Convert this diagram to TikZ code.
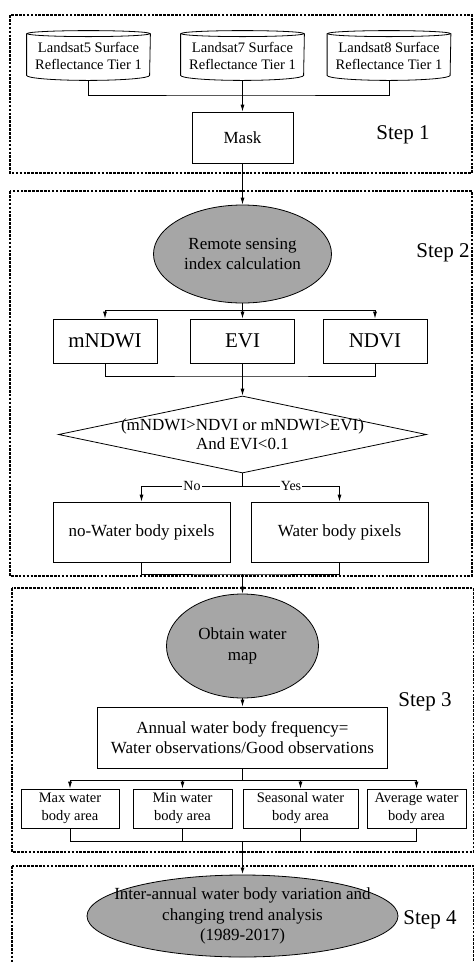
\documentclass[tikz,border=0pt]{standalone}
\usepackage{fontspec}
\setmainfont{Liberation Serif}
\usetikzlibrary{shapes.geometric,arrows.meta,positioning}

\tikzset{
  stepframe/.style={draw, line width=1.1pt, dash pattern=on 2.6pt off 1.3pt},
  steplabel/.style={font=\fontsize{21}{24}\selectfont},
  datacyl/.style={rectangle, minimum width=123pt, minimum height=49pt,
    inner sep=0pt, align=center, font=\fontsize{14.5}{17}\selectfont},
  procbox/.style={draw, rectangle, inner sep=0pt, align=center,
    font=\fontsize{17}{20}\selectfont},
  indexbox/.style={procbox, minimum width=104pt, minimum height=44pt,
    font=\fontsize{21}{24}\selectfont},
  areabox/.style={procbox, minimum height=39pt,
    font=\fontsize{14.5}{18}\selectfont},
  greyoval/.style={draw, ellipse, fill=black!35, inner sep=0pt, align=center,
    font=\fontsize{17}{20.5}\selectfont},
  flow/.style={-{Latex[length=7pt,width=4pt]}},
  branch/.style={fill=white, inner sep=1pt, font=\fontsize{14}{16}\selectfont}
}

\begin{document}
\begin{tikzpicture}[x=1pt, y=-1pt, line width=0.8pt]
\useasboundingbox (0,0) rectangle (474,962);

%step frames
\draw [stepframe] (10,15) rectangle (472,173);
\draw [stepframe] (10,191) rectangle (472,576);
\draw [stepframe] (12,588) rectangle (473.5,852);
\draw [stepframe] (12,866) rectangle (473.5,975);

%step 1
\node [datacyl] (ls5) at (88.5,55.5) {Landsat5 Surface\\Reflectance Tier 1};
\node [datacyl] (ls7) at (242.5,55.5) {Landsat7 Surface\\Reflectance Tier 1};
\node [datacyl] (ls8) at (389,55.5) {Landsat8 Surface\\Reflectance Tier 1};
\foreach \cyl in {ls5,ls7,ls8} {
  \draw ([yshift=-3pt]\cyl.north) ellipse [x radius=61.5pt, y radius=3pt];
  \draw ([yshift=-3pt]\cyl.north west) -- ([yshift=5pt]\cyl.south west)
    arc [start angle=180, end angle=360, x radius=61.5pt, y radius=5pt]
    -- ([yshift=-3pt]\cyl.north east);
}
\node [procbox, minimum width=101pt, minimum height=51pt] (mask) at (242.5,137.5) {Mask};
\node [steplabel] (s1) at (403,135) {Step 1};

\coordinate (j1) at (242.5,95);
\draw (ls5.south) |- (j1) -| (ls8.south);
\draw [flow] (ls7.south) -- (mask.north);

%step 2
\node [greyoval, minimum width=178pt, minimum height=98pt] (rsi) at (242.5,254) {Remote sensing\\index calculation};
\node [steplabel] (s2) at (443,253) {Step 2};
\node [indexbox] (mndwi) at (105,341) {mNDWI};
\node [indexbox] (evi) at (242.5,341) {EVI};
\node [indexbox] (ndvi) at (375,341) {NDVI};
\node [draw, diamond, minimum width=368pt, minimum height=77pt, inner sep=0pt,
  label={[align=center, font=\fontsize{17}{19}\selectfont]center:(mNDWI>NDVI or mNDWI>EVI)\\And EVI<0.1}]
  (cond) at (242.5,434.5) {};
\node [procbox, minimum width=177pt, minimum height=60pt] (nowater) at (141.5,532) {no-Water body pixels};
\node [procbox, minimum width=177pt, minimum height=60pt] (water) at (339.5,532) {Water body pixels};

\draw [flow] (mask.south) -- (rsi.north);
\coordinate (j2) at (242.5,310);
\draw [flow] (rsi.south) -- (evi.north);
\draw [flow] (j2) -| (mndwi.north);
\draw [flow] (j2) -| (ndvi.north);
\coordinate (j3) at (242.5,376);
\draw (mndwi.south) |- (j3) -| (ndvi.south);
\draw [flow] (evi.south) -- (cond.north);
\coordinate (j4) at (242.5,486);
\draw (cond.south) -- (j4);
\draw [flow] (j4) -| node [branch, pos=0.25] {No} (nowater.north);
\draw [flow] (j4) -| node [branch, pos=0.25] {Yes} (water.north);

%step 3
\node [greyoval, minimum width=152pt, minimum height=104pt] (wmap) at (242.5,646) {Obtain water\\map};
\node [steplabel] (s3) at (425,702) {Step 3};
\node [procbox, minimum width=290pt, minimum height=61pt] (freq) at (242.5,737.5) {Annual water body frequency=\\Water observations/Good observations};
\node [areabox, minimum width=98pt] (amax) at (70,808.5) {Max water\\body area};
\node [areabox, minimum width=99pt] (amin) at (182.5,808.5) {Min water\\body area};
\node [areabox, minimum width=115pt] (aseas) at (300.5,808.5) {Seasonal water\\body area};
\node [areabox, minimum width=99pt] (aavg) at (416.5,808.5) {Average water\\body area};

\coordinate (j5) at (242.5,574);
\draw (nowater.south) |- (j5) -| (water.south);
\draw [flow] (j5) -- (wmap.north);
\draw [flow] (wmap.south) -- (freq.north);
\coordinate (j6) at (242.5,780);
\draw (freq.south) -- (j6);
\draw [flow] (j6) -| (amax.north);
\draw [flow] (j6) -| (amin.north);
\draw [flow] (j6) -| (aseas.north);
\draw [flow] (j6) -| (aavg.north);

%step 4
\node [draw, ellipse, fill=black!35, minimum width=311pt, minimum height=82pt, inner sep=0pt,
  label={[align=center, font=\fontsize{17}{20.5}\selectfont]center:Inter-annual water body variation and\\changing trend analysis\\(1989-2017)}]
  (trend) at (242.5,916) {};
\node [steplabel] (s4) at (430,920) {Step 4};

\coordinate (j7) at (242.5,841);
\draw (amax.south) |- (j7) -| (aavg.south);
\draw (amin.south) -- (amin.south |- j7);
\draw (aseas.south) -- (aseas.south |- j7);
\draw [flow, line width=1.3pt] (j7) -- (trend.north);

\end{tikzpicture}
\end{document}
